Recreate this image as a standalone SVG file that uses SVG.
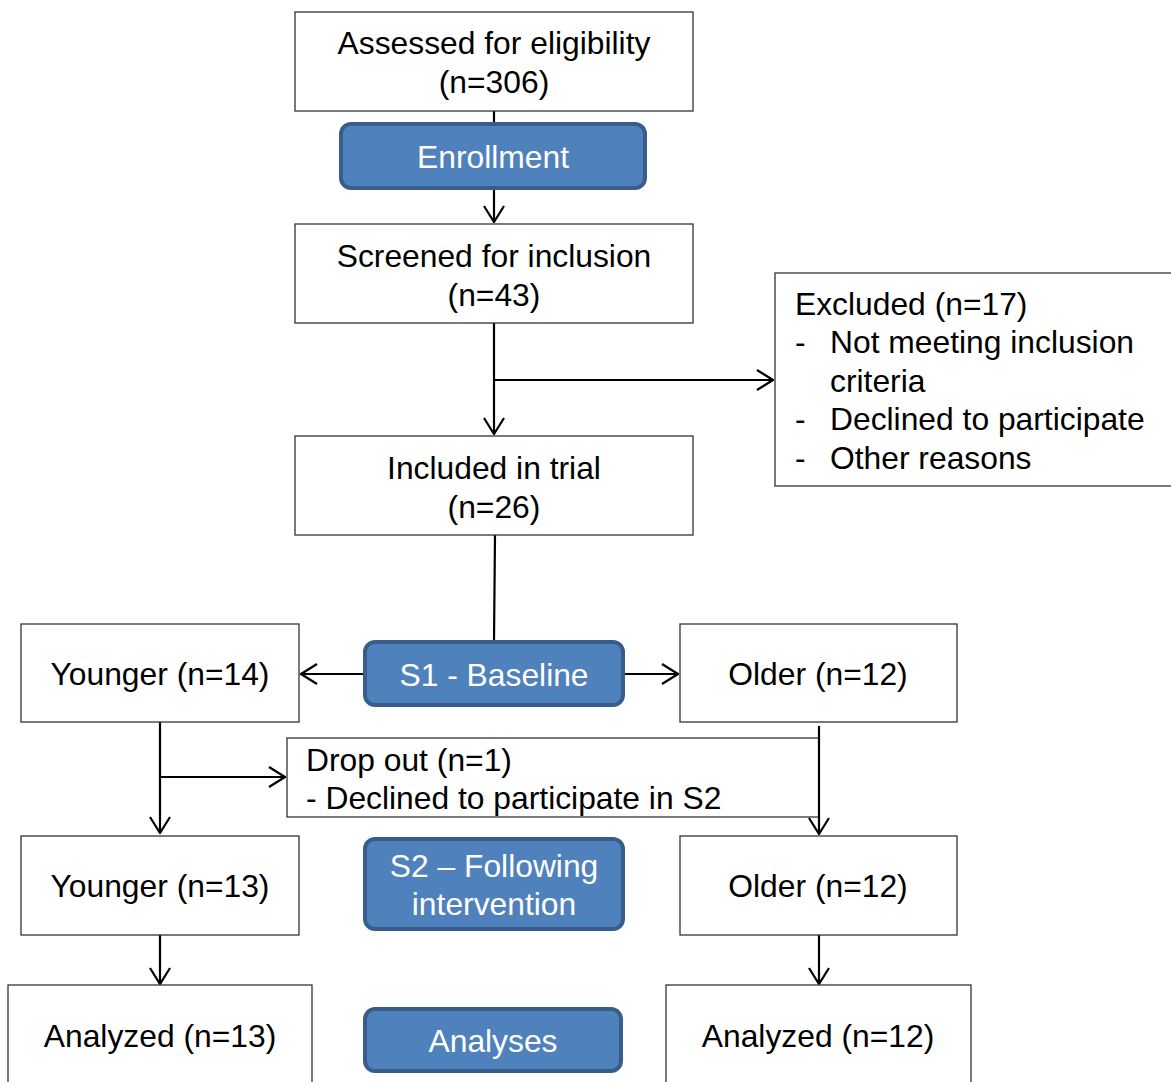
<svg xmlns="http://www.w3.org/2000/svg" width="1171" height="1082" viewBox="0 0 1171 1082">
<style>
.box{fill:#fff;stroke:#333;stroke-width:1.3}
.stage{fill:#4F81BD;stroke:#385D8A;stroke-width:4}
.t{font-family:"Liberation Sans",Arial,sans-serif;font-size:31.8px;fill:#000}
.w{font-family:"Liberation Sans",Arial,sans-serif;font-size:31.8px;fill:#fff}
.c{text-anchor:middle}
.ln{stroke:#000;stroke-width:2.2;fill:none}
</style>
<defs>
<marker id="ah" viewBox="0 0 18 22" refX="17" refY="11" markerWidth="18" markerHeight="22" markerUnits="userSpaceOnUse" orient="auto">
<path d="M1,1 L17,11 L1,21" fill="none" stroke="#000" stroke-width="2.2"/>
</marker>
</defs>
<g id="connectors">
<line class="ln" x1="494" y1="111" x2="494" y2="222" marker-end="url(#ah)"/>
<line class="ln" x1="494" y1="323" x2="494" y2="434" marker-end="url(#ah)"/>
<line class="ln" x1="494" y1="380" x2="773" y2="380" marker-end="url(#ah)"/>
<line class="ln" x1="495" y1="535" x2="494" y2="641"/>
<line class="ln" x1="364" y1="674" x2="301" y2="674" marker-end="url(#ah)"/>
<line class="ln" x1="624" y1="674" x2="678" y2="674" marker-end="url(#ah)"/>
<line class="ln" x1="160" y1="722" x2="160" y2="833" marker-end="url(#ah)"/>
<line class="ln" x1="160" y1="777" x2="285" y2="777" marker-end="url(#ah)"/>
<line class="ln" x1="160" y1="935" x2="160" y2="984" marker-end="url(#ah)"/>
<line class="ln" x1="819" y1="935" x2="819" y2="984" marker-end="url(#ah)"/>
</g>
<g id="assessed"><rect class="box" x="295" y="12" width="398" height="99"/>
<text class="t c" x="494" y="54">Assessed for eligibility</text><text class="t c" x="494" y="93">(n=306)</text></g>
<g id="enrollment"><rect class="stage" x="341" y="124" width="304" height="64" rx="10"/>
<text class="w c" x="493" y="168">Enrollment</text></g>
<g id="screened"><rect class="box" x="295" y="224" width="398" height="99"/>
<text class="t c" x="494" y="267">Screened for inclusion</text><text class="t c" x="494" y="306">(n=43)</text></g>
<g id="excluded"><rect class="box" x="775" y="273" width="400" height="213"/>
<text class="t" x="795" y="315">Excluded (n=17)</text>
<text class="t" x="795" y="353">-</text><text class="t" x="830" y="353">Not meeting inclusion</text>
<text class="t" x="830" y="392">criteria</text>
<text class="t" x="795" y="430">-</text><text class="t" x="830" y="430">Declined to participate</text>
<text class="t" x="795" y="469">-</text><text class="t" x="830" y="469">Other reasons</text></g>
<g id="included"><rect class="box" x="295" y="436" width="398" height="99"/>
<text class="t c" x="494" y="479">Included in trial</text><text class="t c" x="494" y="518">(n=26)</text></g>
<g id="s1"><rect class="stage" x="365" y="642" width="258" height="63" rx="10"/>
<text class="w c" x="494" y="686">S1 - Baseline</text></g>
<g id="younger14"><rect class="box" x="21" y="624" width="278" height="98"/>
<text class="t c" x="160" y="685">Younger (n=14)</text></g>
<g id="older12a"><rect class="box" x="680" y="624" width="277" height="98"/>
<text class="t c" x="818" y="685">Older (n=12)</text></g>
<g id="dropout"><rect class="box" x="287" y="738" width="532" height="79"/>
<text class="t" x="306" y="771">Drop out (n=1)</text>
<text class="t" x="306" y="809">- Declined to participate in S2</text></g>
<line class="ln" x1="819" y1="726" x2="819" y2="834" marker-end="url(#ah)"/>
<g id="younger13"><rect class="box" x="21" y="836" width="278" height="99"/>
<text class="t c" x="160" y="897">Younger (n=13)</text></g>
<g id="s2"><rect class="stage" x="365" y="839" width="258" height="90" rx="10"/>
<text class="w c" x="494" y="877">S2 – Following</text><text class="w c" x="494" y="915">intervention</text></g>
<g id="older12b"><rect class="box" x="680" y="836" width="277" height="99"/>
<text class="t c" x="818" y="897">Older (n=12)</text></g>
<g id="analyzed13"><rect class="box" x="8" y="985" width="304" height="110"/>
<text class="t c" x="160" y="1047">Analyzed (n=13)</text></g>
<g id="analyses"><rect class="stage" x="365" y="1009" width="256" height="62" rx="10"/>
<text class="w c" x="493" y="1052">Analyses</text></g>
<g id="analyzed12"><rect class="box" x="666" y="985" width="305" height="110"/>
<text class="t c" x="818" y="1047">Analyzed (n=12)</text></g>
</svg>
